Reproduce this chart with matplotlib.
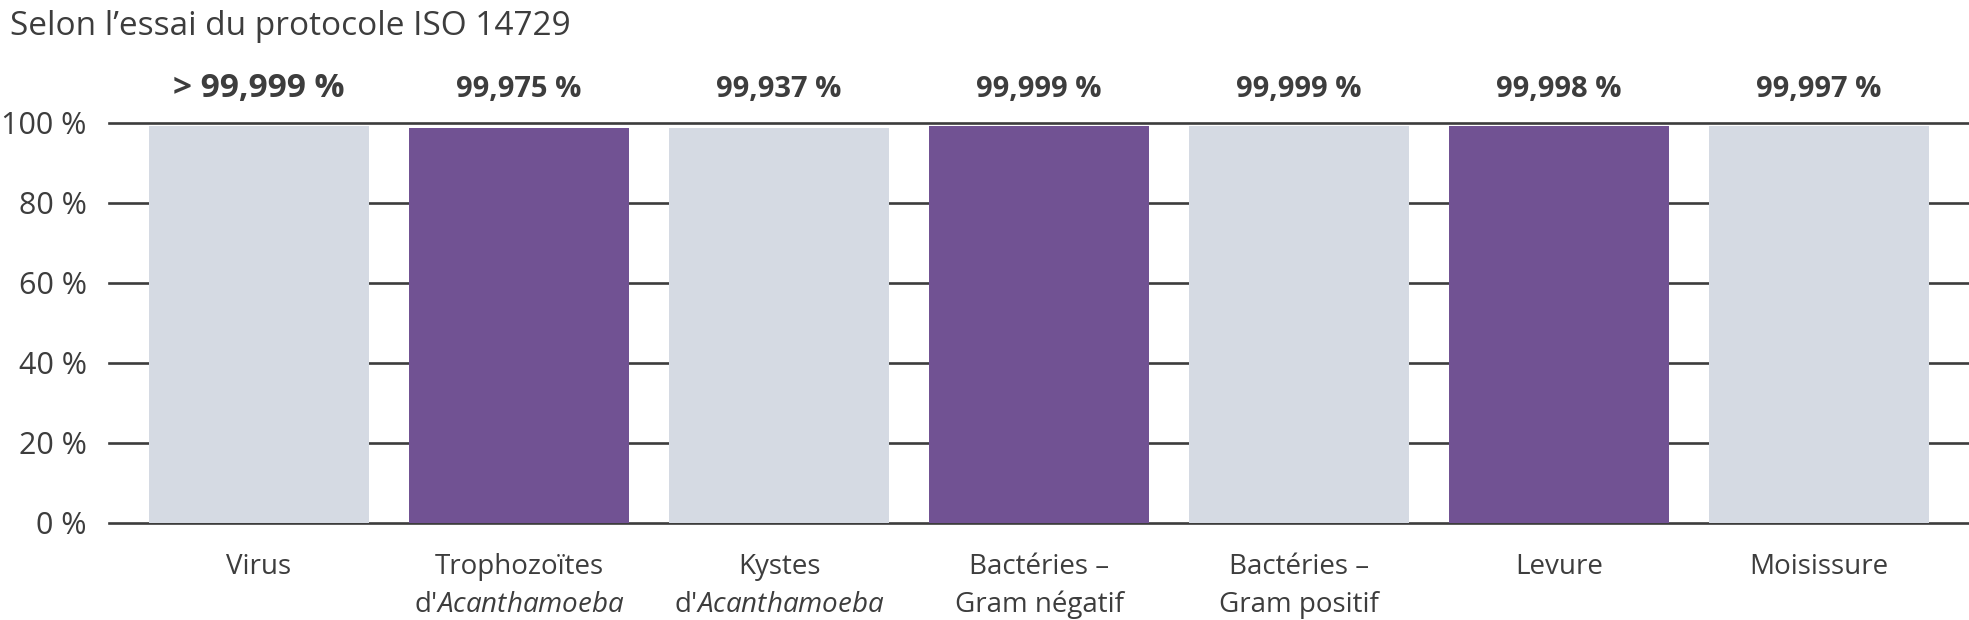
import numpy as np
import matplotlib
matplotlib.use("Agg")
import matplotlib.pyplot as plt

plt.rcParams['font.family'] = ['Open Sans', 'DejaVu Sans']
plt.rcParams['mathtext.fontset'] = 'custom'
plt.rcParams['mathtext.rm'] = 'Open Sans'
plt.rcParams['mathtext.it'] = 'Open Sans:italic'

# data
line1 = ['Virus', 'Trophozoïtes', 'Kystes', 'Bactéries –', 'Bactéries –', 'Levure', 'Moisissure']
line2 = ['', "d'$\\mathit{Acanthamoeba}$", "d'$\\mathit{Acanthamoeba}$", 'Gram négatif', 'Gram positif', '', '']
bar_heights = [99.25, 98.75, 98.75, 99.25, 99.25, 99.25, 99.25]   # as drawn
value_labels = ['> 99,999 %', '99,975 %', '99,937 %', '99,999 %', '99,999 %', '99,998 %', '99,997 %']
highlight = [False, True, False, True, False, True, False]
yticks = [0, 20, 40, 60, 80, 100]
ytick_labels = ['0 %', '20 %', '40 %', '60 %', '80 %', '100 %']

LIGHT = '#d5dae3'
PURPLE = '#715293'
TXT = '#3d3d3d'

fig = plt.figure(figsize=(19.69, 6.2), dpi=100)
ax = fig.add_axes([109/1969, 97/620, 1 - 109/1969, 400/620])

x = np.arange(len(line1))
cols = [PURPLE if h else LIGHT for h in highlight]
ax.bar(x, bar_heights, width=220/260, color=cols, zorder=2)

# grid lines sit behind the bars, no clipping so the 0 and 100 lines keep full width
for yv in yticks:
    ax.axhline(yv, color='#3c3c3c', lw=1.9, zorder=1, clip_on=False)

ax.set_xlim(-150/260, 6 + 150/260)
ax.set_ylim(0, 100)
for s in ax.spines.values():
    s.set_visible(False)
ax.set_xticks([])
ax.set_yticks(yticks)
ax.set_yticklabels(ytick_labels, fontsize=22, color=TXT)
ax.tick_params(axis='y', length=0, pad=16)

for i in range(len(x)):
    fs = 24 if i == 0 else 21   # first label is drawn larger
    ax.text(x[i], 106.5, value_labels[i], ha='center', va='baseline',
            fontsize=fs, fontweight='bold', color=TXT, clip_on=False)
    ax.text(x[i], -12.75, line1[i], ha='center', va='baseline',
            fontsize=20, color=TXT, clip_on=False)
    if line2[i]:
        ax.text(x[i], -22.25, line2[i], ha='center', va='baseline',
                fontsize=20, color=TXT, clip_on=False)

fig.text(10/1969, (620-35)/620, 'Selon l’essai du protocole ISO 14729',
         ha='left', va='baseline', fontsize=24, color=TXT)

fig.savefig('out.png', dpi=100)
